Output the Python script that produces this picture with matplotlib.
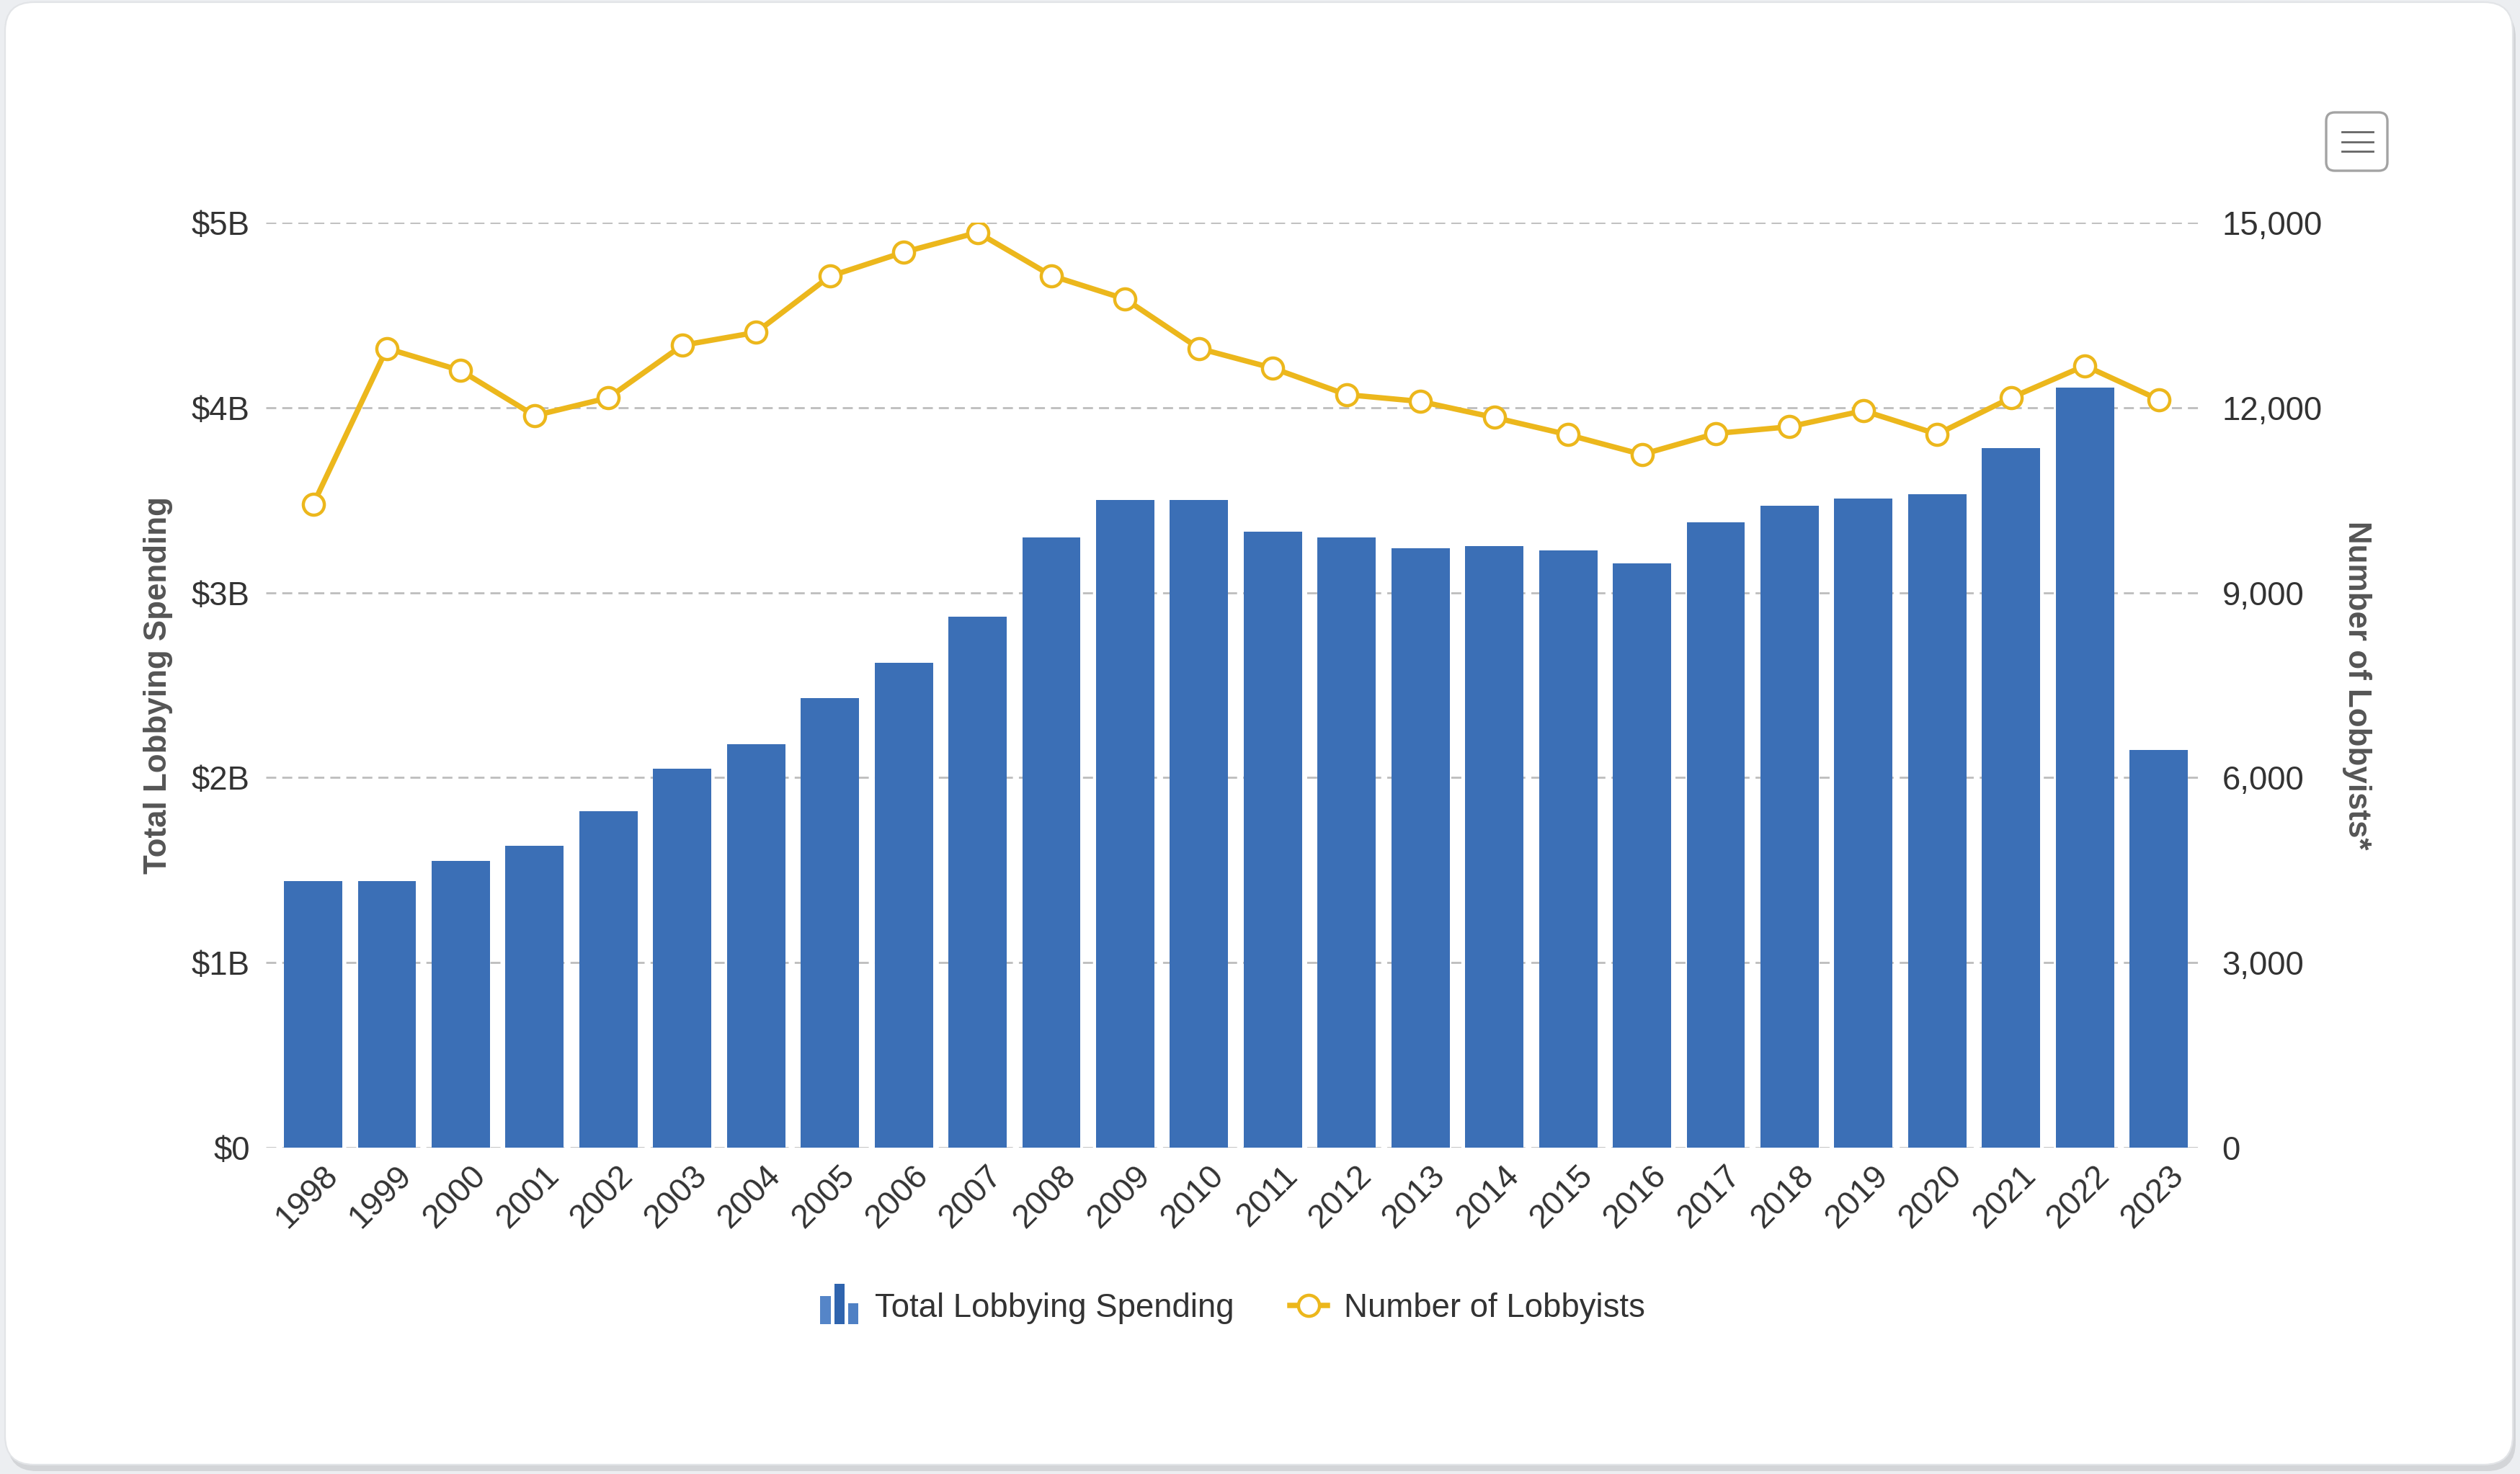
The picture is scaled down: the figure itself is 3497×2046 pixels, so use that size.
import matplotlib.pyplot as plt
import numpy as np
from matplotlib.patches import FancyBboxPatch, Rectangle
from matplotlib.lines import Line2D
from matplotlib.legend_handler import HandlerBase
from matplotlib.transforms import IdentityTransform, ScaledTranslation
from matplotlib.ticker import FuncFormatter

plt.rcParams['font.family'] = ['Liberation Sans', 'DejaVu Sans']

# Years on the x axis
years = ['1998', '1999', '2000', '2001', '2002', '2003', '2004', '2005', '2006',
         '2007', '2008', '2009', '2010', '2011', '2012', '2013', '2014', '2015',
         '2016', '2017', '2018', '2019', '2020', '2021', '2022', '2023']

# Total lobbying spending, billions of dollars
spending = [1.44, 1.44, 1.55, 1.63, 1.82, 2.05, 2.18, 2.43, 2.62, 2.87, 3.30, 3.50, 3.50,
            3.33, 3.30, 3.24, 3.25, 3.23, 3.16, 3.38, 3.47, 3.51, 3.53, 3.78, 4.11, 2.15]

# Number of registered lobbyists
lobbyists = [10430, 12960, 12600, 11870, 12160, 13010, 13220, 14130, 14520, 14840,
             14140, 13760, 12960, 12640, 12210, 12100, 11840, 11560, 11240, 11580,
             11690, 11950, 11570, 12160, 12680, 12130]

left_ticks = [0, 1, 2, 3, 4, 5]
right_ticks = [0, 3000, 6000, 9000, 12000, 15000]

BLUE = '#3b6fb6'
GOLD = '#ecb71c'
TEXT = '#333333'
TITLE = '#555555'


class BarIconHandler(HandlerBase):
    """Little three-bar glyph for the spending series."""
    def create_artists(self, legend, orig_handle, xdescent, ydescent,
                       width, height, fontsize, trans):
        x0, y0 = -xdescent, -ydescent
        bw = width * 0.27
        step = width * 0.365
        parts = []
        for i, (h, c) in enumerate(zip([0.70, 1.0, 0.52],
                                       ['#5585c8', '#2f64ae', '#4f80c4'])):
            r = Rectangle((x0 + i * step, y0 - 0.3 * height), bw, h * 1.75 * height,
                          facecolor=c, edgecolor='none', transform=trans)
            parts.append(r)
        return parts


fig = plt.figure(figsize=(17.49, 10.23), dpi=200)
fig.patch.set_facecolor('#eceef1')

# card behind the chart
px = IdentityTransform()
fig.add_artist(FancyBboxPatch((11, 4), 3480, 2030, boxstyle='round,pad=0,rounding_size=40',
                              fc='#d3d5d8', ec='none', transform=px, zorder=-3))
fig.add_artist(FancyBboxPatch((7, 13), 3480, 2030, boxstyle='round,pad=0,rounding_size=40',
                              fc='white', ec='#e2e4e7', lw=0.8, transform=px, zorder=-2))

ax = fig.add_axes([0.10549, 0.22141, 0.76730, 0.62757])
ax.set_facecolor('none')
x = np.arange(len(years))

ax.bar(x, spending, width=0.79, color=BLUE, zorder=2)
ax.set_xlim(-0.64, 25.56)
ax.set_ylim(0, 5)
ax.set_yticks(left_ticks)
ax.yaxis.set_major_formatter(FuncFormatter(lambda v, p: '$0' if v == 0 else f'${v:.0f}B'))
ax.set_axisbelow(True)
ax.grid(axis='y', color='#bdbdbd', linestyle=(0, (5, 3)), linewidth=1.0)
for s in ax.spines.values():
    s.set_visible(False)

ax.tick_params(axis='y', length=0, pad=8, labelsize=16.4, labelcolor=TEXT)
ax.tick_params(axis='x', length=0, pad=6, labelsize=16.6, labelcolor=TEXT)
ax.set_xticks(x)
ax.set_xticklabels(years, rotation=45, ha='right', va='top', rotation_mode='anchor')
shift = ScaledTranslation(12 / 200, 0, fig.dpi_scale_trans)
for lab in ax.get_xticklabels():
    lab.set_transform(lab.get_transform() + shift)

ax.set_ylabel('Total Lobbying Spending', fontsize=15.8, fontweight='bold', color=TITLE)
ax.yaxis.set_label_coords(-0.048, 0.5)

# lobbyist counts on the right axis
ax2 = ax.twinx()
ax2.plot(x, lobbyists, color=GOLD, lw=2.7, marker='o', ms=10.5,
         mfc='white', mec=GOLD, mew=1.6, zorder=3)
ax2.set_ylim(0, 15000)
ax2.set_yticks(right_ticks)
ax2.yaxis.set_major_formatter(FuncFormatter(lambda v, p: f'{int(v):,}'))
ax2.tick_params(axis='y', length=0, pad=11, labelsize=16.4, labelcolor=TEXT)
for s in ax2.spines.values():
    s.set_visible(False)
ax2.set_ylabel('Number of Lobbyists*', fontsize=15.8, fontweight='bold', color=TITLE,
               rotation=270, va='bottom')
ax2.yaxis.set_label_coords(1.0734, 0.5)

# legend
bar_key = Rectangle((0, 0), 1, 1)
line_key = Line2D([], [], color=GOLD, lw=2.7, marker='o', ms=10.5,
                  mfc='white', mec=GOLD, mew=1.6)
fig.legend([bar_key, line_key], ['Total Lobbying Spending', 'Number of Lobbyists'],
           handler_map={bar_key: BarIconHandler()},
           loc='center', bbox_to_anchor=(0.489, 0.1124), ncol=2, frameon=False,
           fontsize=16.4, labelcolor=TEXT, handlelength=1.15, handletextpad=0.5,
           columnspacing=1.7)

# export menu button
fig.add_artist(FancyBboxPatch((3228, 1809), 85, 81, boxstyle='round,pad=0,rounding_size=12',
                              fc='white', ec='#a3a3a3', lw=1.2, transform=px))
for yy in [1863, 1849, 1836]:
    fig.add_artist(Line2D([3250, 3293], [yy, yy], color='#666666', lw=1.0, transform=px))

fig.savefig('out.png', dpi=200)
